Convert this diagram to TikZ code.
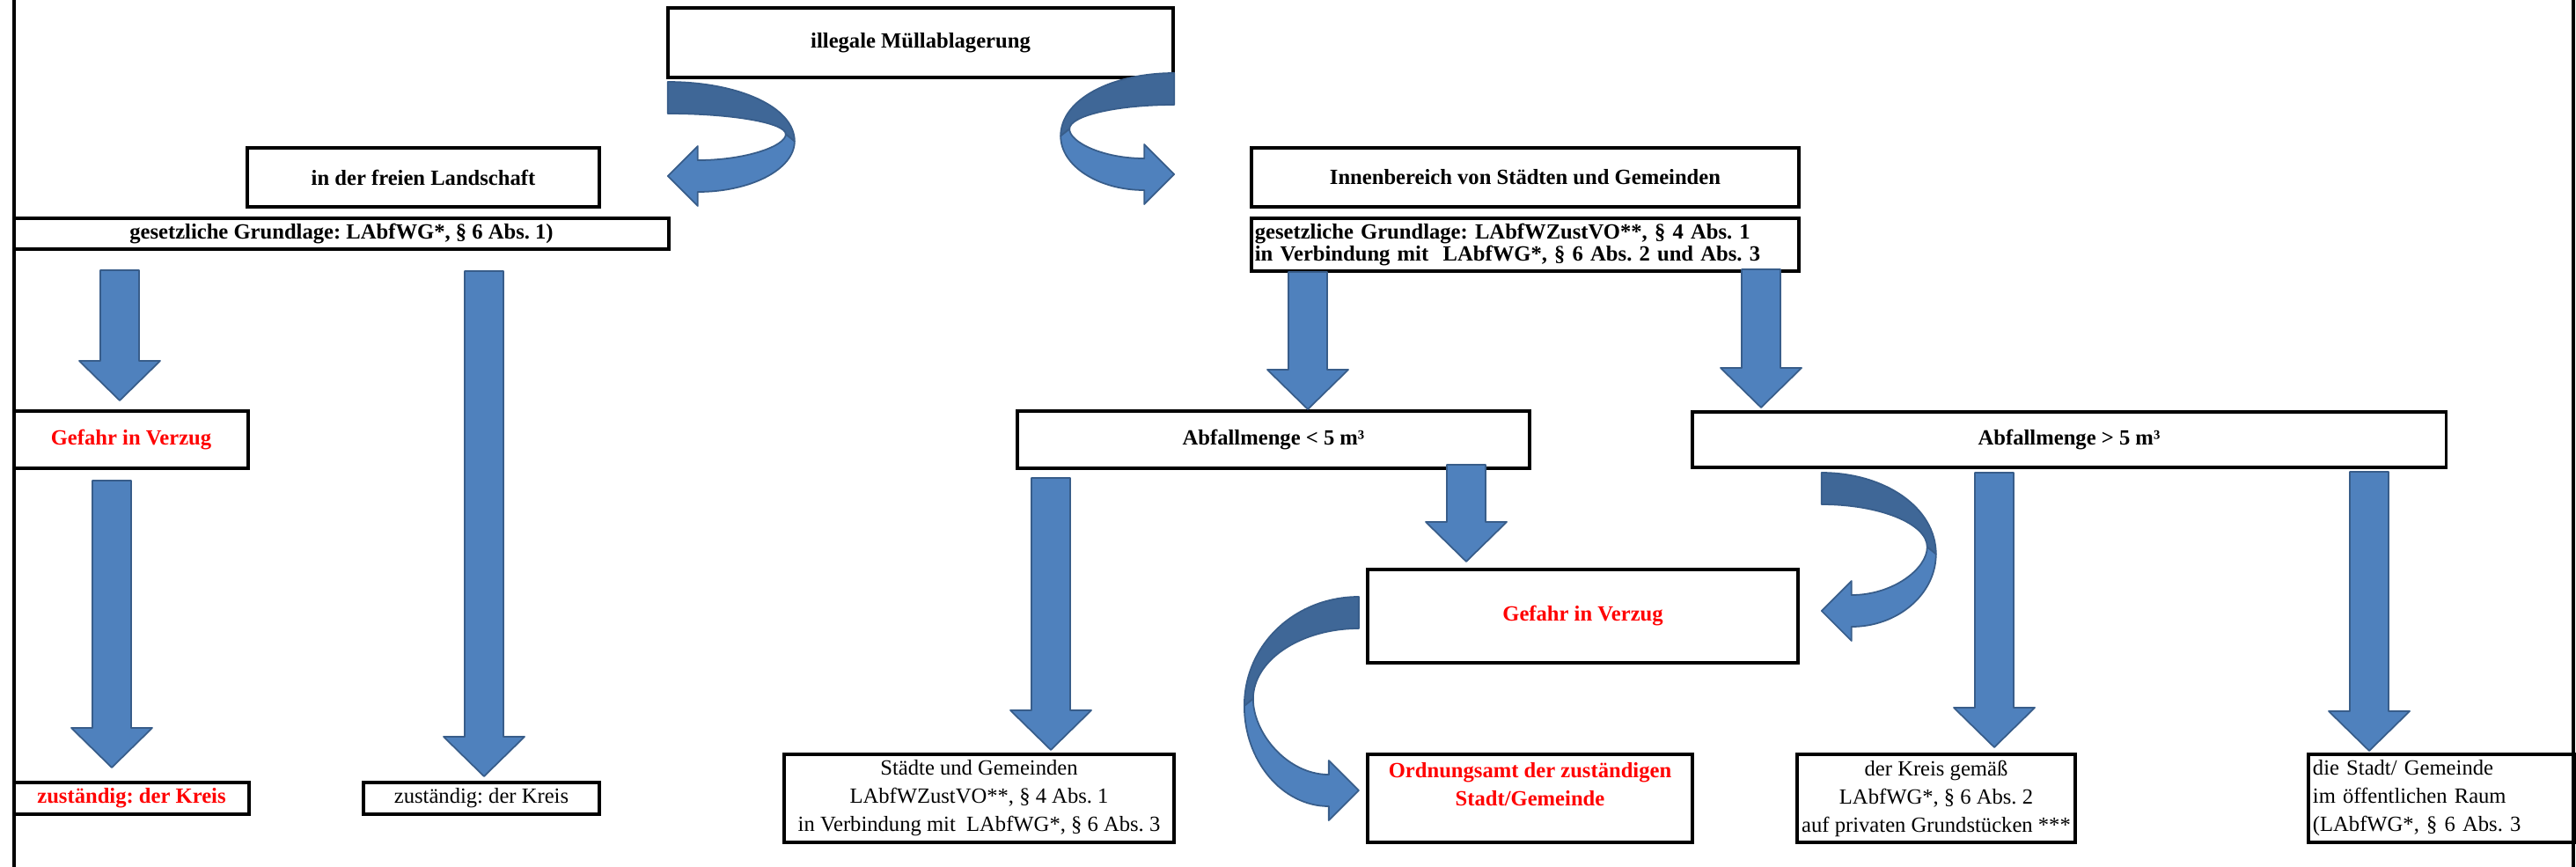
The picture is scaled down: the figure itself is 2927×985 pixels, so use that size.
\documentclass[tikz,border=0pt]{standalone}
\usepackage{fontspec}
\setmainfont{Liberation Serif}
\frenchspacing
\usetikzlibrary{calc}
\definecolor{arrowblue}{HTML}{4F81BD}
\definecolor{arrowdark}{HTML}{3F6797}
\definecolor{arrowedge}{HTML}{385D8A}
\tikzset{
  box/.style={draw, line width=1pt, inner sep=0pt, outer sep=0pt, align=center},
  headfont/.style={font=\fontsize{7}{9.1}\selectfont\bfseries},
  plainfont/.style={font=\fontsize{7}{9.1}\selectfont},
  alarm/.style={text=red},
  blockarrow/.style={fill=arrowblue, draw=arrowedge, line width=0.5pt, line join=round},
  ribbonback/.style={fill=arrowdark, draw=arrowedge, line width=0.5pt, line join=round}
}
\newcommand\blockdown[5]{%
  \coordinate (bs) at ($(#1,0 |- #2.south)+(0,#3)$);
  \coordinate (be) at ($(#1,0 |- #4.north)+(0,-#5)$);
  \draw[blockarrow] ($(bs)+(-22,0)$) -- ($(bs)+(22,0)$) -- ($(be)+(22,-45)$)
    -- ($(be)+(46,-45)$) -- (be) -- ($(be)+(-46,-45)$) -- ($(be)+(-22,-45)$) -- cycle;}
\newcommand\ribbon[4]{%
  \begin{scope}[shift={#1}, xscale=#2]
    \pgfmathsetmacro\ribW{#3}
    \pgfmathsetmacro\ribH{#4}
    \pgfmathsetmacro\ribT{\ribH-34}
    \pgfmathsetmacro\ribI{\ribT-18}
    \pgfmathsetmacro\ribO{\ribT+18}
    \pgfmathsetmacro\ribTw{(36+\ribI)/2}
    \draw[ribbonback] (0,0) .. controls (0.55*\ribW,0) and (\ribW,0.45*\ribTw) .. (\ribW,\ribTw+5)
      -- (\ribW-10,\ribTw-3) .. controls (\ribW-10,36+0.45*\ribTw-17.5) and (0.55*\ribW-5.5,36) .. (0,36) -- cycle;
    \draw[blockarrow] (\ribW,\ribTw+5) .. controls (\ribW,\ribTw+5+0.55*\ribO-0.55*\ribTw-2.75) and (15.3+0.55*\ribW,\ribO) .. (34,\ribO)
      -- (34,\ribH) -- (0,\ribT) -- (34,\ribT-34) -- (34,\ribI)
      .. controls (9.8+0.55*\ribW,\ribI) and (\ribW-10,0.45*\ribI+0.55*\ribTw-1.65) .. (\ribW-10,\ribTw-3) -- cycle;
  \end{scope}}
\begin{document}
\begin{tikzpicture}[x=0.01cm,y=-0.01cm]
  \useasboundingbox (0,0) rectangle (2927,985);
  \draw[line width=1.1pt] (16,0) -- (16,985) (2924,0) -- (2924,985);

  \node[box, headfont, minimum width=5.74cm, minimum height=0.79cm] (top) at (1046,48.5) {illegale Müllablagerung};
  \node[box, headfont, minimum width=4.00cm, minimum height=0.67cm] (landschaft) at (481,201.5) {in der freien Landschaft};
  \node[box, headfont, minimum width=7.44cm, minimum height=0.35cm] (gesL) at (388,265.5) {gesetzliche Grundlage: LAbfWG*, § 6 Abs. 1)};
  \node[box, headfont, minimum width=6.22cm, minimum height=0.67cm] (innen) at (1733,201.5) {Innenbereich von Städten und Gemeinden};
  \node[box, font=\fontsize{7}{7}\selectfont\bfseries, align=left, text width=6.14cm, inner xsep=0.04cm, minimum height=0.60cm] (gesR) at (1733,278)
    {gesetzliche Grundlage: LAbfWZustVO**, § 4 Abs. 1\\in Verbindung mit~ LAbfWG*, § 6 Abs. 2 und Abs. 3};
  \node[box, headfont, alarm, minimum width=2.66cm, minimum height=0.65cm] (gefL) at (149,499.5) {Gefahr in Verzug};
  \node[box, headfont, minimum width=5.82cm, minimum height=0.65cm] (kleiner) at (1447,499.5) {Abfallmenge < 5 m³};
  \node[box, headfont, minimum width=8.56cm, minimum height=0.63cm] (groesser) at (2351,499.5) {Abfallmenge > 5 m³};
  \node[box, headfont, alarm, minimum width=4.89cm, minimum height=1.06cm] (gefM) at (1798.5,700) {Gefahr in Verzug};
  \node[box, headfont, alarm, minimum width=2.67cm, minimum height=0.36cm] (kreisR) at (149.5,907) {zuständig: der Kreis};
  \node[box, plainfont, minimum width=2.68cm, minimum height=0.36cm] (kreisS) at (547,907) {zuständig: der Kreis};
  \node[box, plainfont, minimum width=4.43cm, minimum height=1.00cm] (staedte) at (1112.5,907)
    {Städte und Gemeinden\\LAbfWZustVO**, § 4 Abs. 1\\in Verbindung mit~ LAbfWG*, § 6 Abs. 3};
  \node[box, headfont, alarm, minimum width=3.69cm, minimum height=1.00cm] (ordnung) at (1738.5,907)
    {Ordnungsamt der zuständigen\\Stadt/Gemeinde\\\mbox{}};
  \node[box, plainfont, minimum width=3.16cm, minimum height=1.00cm] (kreisG) at (2200,907)
    {der Kreis gemäß\\LAbfWG*, § 6 Abs. 2\\auf privaten Grundstücken ***};
  \node[box, plainfont, align=left, text width=2.92cm, inner xsep=0.05cm, minimum height=1.00cm] (stadt) at (2774,907)
    {die Stadt/ Gemeinde\\im öffentlichen Raum\\(LAbfWG*, § 6 Abs. 3};

  \ribbon{($(top.south west)+(0,5)$)}{1}{144}{141}
  \ribbon{($(top.south east)+(1,-5)$)}{-1}{129}{149}
  \ribbon{($(groesser.south west)+(147,6)$)}{1}{130}{191}
  \ribbon{($(gefM.west)+(-10,-22)$)}{-1}{130}{254}

  \blockdown{136}{gesL}{24}{gefL}{12}
  \blockdown{127}{gefL}{14}{kreisR}{17}
  \blockdown{550}{gesL}{25}{kreisS}{7}
  \blockdown{1486}{gesR}{1}{kleiner}{2}
  \blockdown{2001}{gesR}{-2}{groesser}{5}
  \blockdown{1194}{kleiner}{11}{staedte}{5}
  \blockdown{1666}{kleiner}{-4}{gefM}{9}
  \blockdown{2266}{groesser}{6}{kreisG}{8}
  \blockdown{2692}{groesser}{5}{stadt}{4}
\end{tikzpicture}
\end{document}
